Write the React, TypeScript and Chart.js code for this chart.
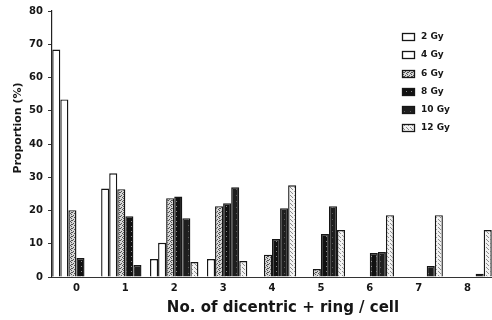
import React, { useEffect, useRef } from "react";
import { Chart, registerables } from "chart.js";

Chart.register(...registerables);

// ---- data ----
const categories = ["0", "1", "2", "3", "4", "5", "6", "7", "8"];
const doseLabels = ["2 Gy", "4 Gy", "6 Gy", "8 Gy", "10 Gy", "12 Gy"];
const gy2 = [68.4, 26.6, 5.4, 0, 0, 0, 0, 0, 0];
const gy4 = [53.4, 31.2, 10.3, 5.4, 0, 0, 0, 0, 0];
const gy6 = [20.1, 26.4, 23.7, 21.3, 6.7, 2.4, 0, 0, 0];
const gy8 = [5.7, 18.3, 24.2, 22.2, 11.4, 12.9, 7.2, 0, 0];
const gy10 = [0, 3.6, 17.7, 27.0, 20.7, 21.3, 7.5, 3.3, 1.0];
const gy12 = [0, 0, 4.5, 4.8, 27.6, 14.1, 18.6, 18.6, 14.1];
const yTickValues = [0, 10, 20, 30, 40, 50, 60, 70, 80];
const xTitle = "No. of dicentric + ring / cell";
const yTitle = "Proportion (%)";

const FONT = "'DejaVu Sans', 'Liberation Sans', sans-serif";
const INK = "#161616";

function makePattern(
  bg: string,
  fg: string,
  pts: number[][],
  size: number
): CanvasPattern | string {
  const c = document.createElement("canvas");
  c.width = size;
  c.height = size;
  const g = c.getContext("2d");
  if (!g) return bg;
  g.fillStyle = bg;
  g.fillRect(0, 0, size, size);
  g.fillStyle = fg;
  pts.forEach(([x, y]) => g.fillRect(x, y, 1, 1));
  const p = g.createPattern(c, "repeat");
  return p || bg;
}

export default function App() {
  const ref = useRef<HTMLCanvasElement | null>(null);

  useEffect(() => {
    const canvas = ref.current;
    if (!canvas) return;

    const fills: (CanvasPattern | string)[] = [
      "#ffffff",
      "#ffffff",
      makePattern("#d6d6d6", "#505050", [[0, 0], [2, 1], [1, 3], [3, 2], [3, 0]], 4),
      makePattern("#111111", "#8a8a8a", [[1, 1]], 5),
      makePattern("#1e1e1e", "#5a5a5a", [[2, 3]], 6),
      makePattern("#f2f2f2", "#8c8c8c", [[0, 1], [2, 3], [3, 0]], 4),
    ];
    const series = [gy2, gy4, gy6, gy8, gy10, gy12];

    const overlay = {
      id: "overlay",
      afterDraw(chart: any) {
        const ctx = chart.ctx as CanvasRenderingContext2D;
        ctx.save();
        // axis titles
        ctx.fillStyle = INK;
        ctx.textAlign = "center";
        ctx.textBaseline = "middle";
        ctx.font = `bold 15px ${FONT}`;
        ctx.fillText(xTitle, 283, 308);
        ctx.save();
        ctx.translate(18, 128);
        ctx.rotate(-Math.PI / 2);
        ctx.font = `bold 11px ${FONT}`;
        ctx.fillText(yTitle, 0, 0);
        ctx.restore();
        // legend
        const rows = [37, 55, 74, 92, 110, 128];
        doseLabels.forEach((lab, i) => {
          const y = rows[i];
          ctx.fillStyle = fills[i] as any;
          ctx.fillRect(402, y - 4, 13, 8);
          ctx.strokeStyle = INK;
          ctx.lineWidth = 1.3;
          ctx.strokeRect(402.5, y - 3.5, 12, 7);
          ctx.fillStyle = INK;
          ctx.textAlign = "left";
          ctx.font = `bold 9px ${FONT}`;
          ctx.fillText(lab, 421, y);
        });
        ctx.restore();
      },
    };

    const chart = new Chart(canvas, {
      type: "bar",
      data: {
        labels: categories,
        datasets: series.map((d, i) => ({
          label: doseLabels[i],
          data: d,
          backgroundColor: fills[i] as any,
          borderColor: INK,
          borderWidth: 1.4,
          borderSkipped: "bottom",
          barPercentage: 1,
          categoryPercentage: 0.99,
        })),
      },
      options: {
        responsive: false,
        animation: false,
        layout: { padding: { top: 10, left: 0, right: 0, bottom: 0 } },
        plugins: {
          legend: { display: false },
          tooltip: { enabled: false },
          title: { display: false },
        },
        scales: {
          x: {
            grid: { display: false, drawTicks: false },
            border: { display: true, color: "#333", width: 1 },
            ticks: {
              color: INK,
              padding: 5,
              font: { family: FONT, size: 10, weight: "bold" },
            },
            afterFit: (s: any) => {
              s.height = 43;
            },
          },
          y: {
            min: 0,
            max: 80,
            afterBuildTicks: (s: any) => {
              s.ticks = yTickValues.map((v) => ({ value: v }));
            },
            grid: {
              display: true,
              drawOnChartArea: false,
              drawTicks: true,
              tickLength: 4,
              color: "#333",
            },
            border: { display: true, color: "#222", width: 1.2 },
            ticks: {
              color: INK,
              padding: 5,
              font: { family: FONT, size: 10, weight: "bold" },
            },
            afterFit: (s: any) => {
              s.width = 52;
            },
          },
        },
      },
      plugins: [overlay],
    });

    return () => chart.destroy();
  }, []);

  return (
    <div style={{ position: "absolute", left: 0, top: 0, width: 492, height: 320, background: "#fff" }}>
      <canvas ref={ref} width={492} height={320} style={{ display: "block" }} />
    </div>
  );
}
